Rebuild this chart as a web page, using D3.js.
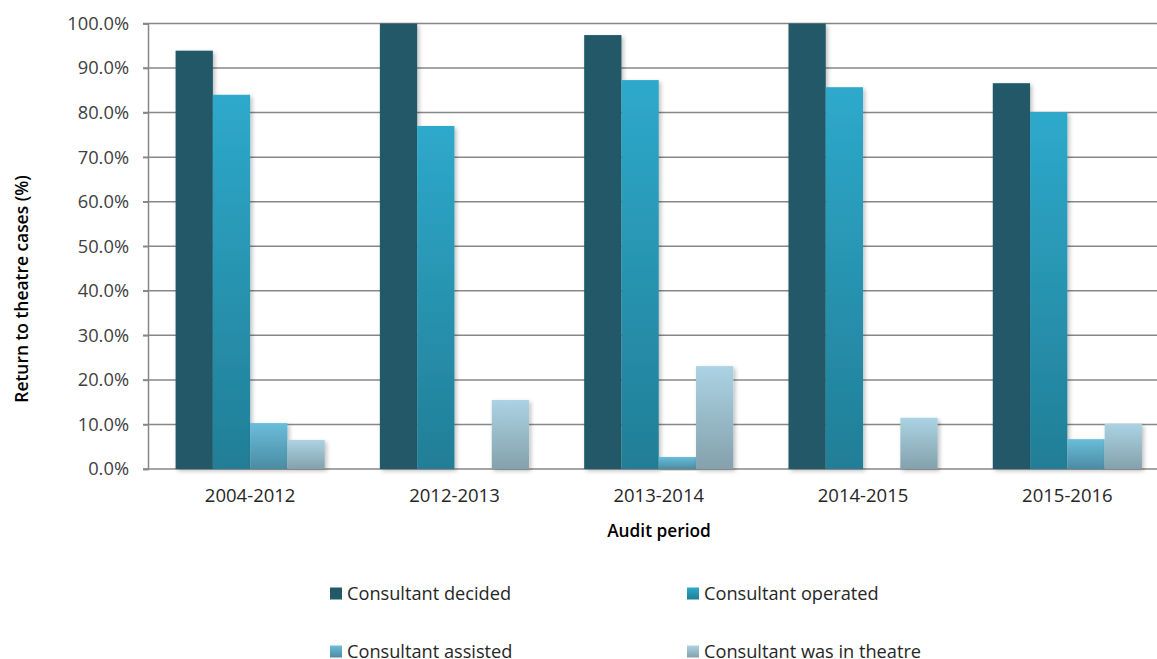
<!DOCTYPE html>
<html>
<head>
<meta charset="utf-8">
<script src="https://cdn.jsdelivr.net/npm/d3@7"></script>
<style>
  html, body { margin: 0; padding: 0; background: #fff; }
  svg { display: block; font-family: "Open Sans", "Noto Sans", sans-serif; }
</style>
</head>
<body>
<svg id="chart" width="1157" height="659"></svg>
<script>
const categories = ["2004-2012", "2012-2013", "2013-2014", "2014-2015", "2015-2016"];
const seriesNames = ["Consultant decided", "Consultant operated", "Consultant assisted", "Consultant was in theatre"];
const decided  = [93.9, 100.0, 97.4, 100.0, 86.6];
const operated = [84.0, 77.0, 87.3, 85.7, 80.1];
const assisted = [10.3, 0.0, 2.7, 0.0, 6.7];
const theatre  = [6.5, 15.5, 23.1, 11.5, 10.1];
const yTicks = [0, 10, 20, 30, 40, 50, 60, 70, 80, 90, 100];

const seriesValues = [decided, operated, assisted, theatre];
const gradients = [
  ["#215968", "#215968"],
  ["#2EA9CB", "#217E96"],
  ["#6ABDDA", "#4A8CA3"],
  ["#ABD3E3", "#84A1AC"]
];

const svg = d3.select("#chart");
const margin = { left: 148, top: 23.5, bottom: 469, right: 1169.5 };

const defs = svg.append("defs");
gradients.forEach((g, i) => {
  const lg = defs.append("linearGradient").attr("id", "grad" + i)
    .attr("x1", 0).attr("y1", 0).attr("x2", 0).attr("y2", 1);
  lg.append("stop").attr("offset", "0%").attr("stop-color", g[0]);
  lg.append("stop").attr("offset", "100%").attr("stop-color", g[1]);
});
const f = defs.append("filter").attr("id", "shadow")
  .attr("x", "-20%").attr("y", "-5%").attr("width", "150%").attr("height", "120%");
f.append("feDropShadow").attr("dx", 2).attr("dy", 2).attr("stdDeviation", 2)
  .attr("flood-color", "#000").attr("flood-opacity", 0.25);

const x0 = d3.scaleBand().domain(categories).range([margin.left, margin.right]).paddingInner(0.27).paddingOuter(0.135);
const x1 = d3.scaleBand().domain(d3.range(4)).range([0, x0.bandwidth()]);
const y = d3.scaleLinear().domain([0, 100]).range([margin.bottom, margin.top]);

// gridlines
svg.append("g").selectAll("line").data(yTicks).join("line")
  .attr("x1", margin.left - 5).attr("x2", 1157)
  .attr("y1", d => y(d)).attr("y2", d => y(d))
  .attr("stroke", "#878787").attr("stroke-width", 1.5);

// y axis
const yAxis = d3.axisLeft(y).tickValues(yTicks).tickFormat(d => d3.format(".1f")(d) + "%").tickSize(5).tickPadding(14);
const ya = svg.append("g").attr("transform", `translate(${margin.left},0)`).call(yAxis);
ya.select(".domain").attr("stroke", "#878787").attr("stroke-width", 1.5);
ya.selectAll(".tick line").attr("stroke", "#878787").attr("stroke-width", 1.5);
ya.selectAll(".tick text").attr("fill", "#404040").style("font-size", "18.3px").style("font-family", "'Open Sans', sans-serif");

// bars
const groups = svg.append("g").selectAll("g").data(categories).join("g")
  .attr("transform", d => `translate(${x0(d)},0)`);
groups.selectAll("rect").data((d, ci) => seriesValues.map((s, si) => ({ si, v: s[ci] })))
  .join("rect")
  .filter(d => d.v > 0)
  .attr("x", d => x1(d.si))
  .attr("width", x1.bandwidth())
  .attr("y", d => y(d.v))
  .attr("height", d => y(0) - y(d.v))
  .attr("fill", d => `url(#grad${d.si})`)
  .attr("filter", "url(#shadow)");

// x axis labels
const xAxis = d3.axisBottom(x0).tickSize(0).tickPadding(20);
const xa = svg.append("g").attr("transform", `translate(0,${margin.bottom})`).call(xAxis);
xa.select(".domain").remove();
xa.selectAll(".tick text").attr("fill", "#262626").style("font-size", "18.5px").style("font-family", "'Open Sans', sans-serif");

// axis titles
svg.append("text").attr("x", 659).attr("y", 537).attr("text-anchor", "middle")
  .attr("fill", "#000").style("font-size", "17.3px").style("font-weight", 600)
  .text("Audit period");
svg.append("text").attr("transform", "translate(28,289) rotate(-90)").attr("text-anchor", "middle")
  .attr("fill", "#000").style("font-size", "17.4px").style("font-weight", 600)
  .text("Return to theatre cases (%)");

// legend
const legendPos = [[330, 593], [687, 593], [330, 651], [687, 651]];
const lg = svg.append("g").selectAll("g").data(seriesNames).join("g")
  .attr("transform", (d, i) => `translate(${legendPos[i][0]},${legendPos[i][1]})`);
lg.append("rect").attr("x", 0).attr("y", -5.5).attr("width", 12).attr("height", 12)
  .attr("fill", (d, i) => `url(#grad${i})`);
lg.append("text").attr("x", 17).attr("y", 6.5).attr("fill", "#262626")
  .style("font-size", "18.2px").text(d => d);
</script>
</body>
</html>
